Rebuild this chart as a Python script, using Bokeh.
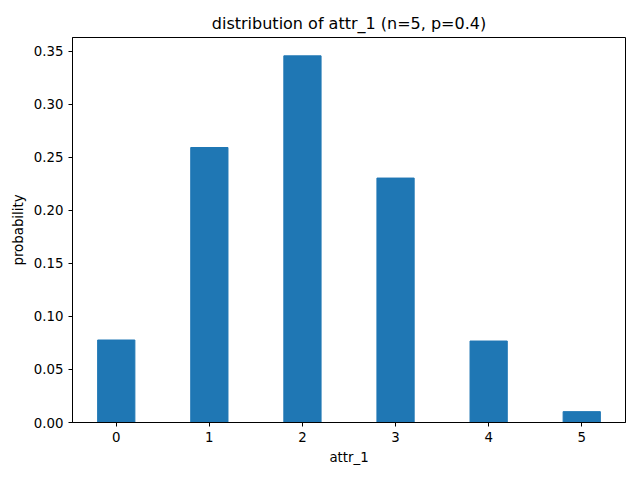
from bokeh.plotting import figure
from bokeh.models import Range1d, FixedTicker, CustomJSTickFormatter
from bokeh.embed import file_html
from bokeh.resources import INLINE

categories = [0, 1, 2, 3, 4, 5]
probabilities = [0.07776, 0.2592, 0.3456, 0.2304, 0.0768, 0.01024]
y_ticks = [0.0, 0.05, 0.10, 0.15, 0.20, 0.25, 0.30, 0.35]

p = figure(width=632, height=472, output_backend="svg", toolbar_location=None,
           x_range=Range1d(-0.47, 5.47), y_range=Range1d(0, 0.36288),
           title="distribution of attr_1 (n=5, p=0.4)",
           min_border_left=72, min_border_right=7, min_border_top=37, min_border_bottom=50)
p.vbar(x=categories, top=probabilities, width=0.4, color="#1f77b4")
p.title.align = "center"
p.title.text_font = "DejaVu Sans"
p.title.text_font_style = "normal"
p.title.text_font_size = "12pt"
p.title.text_color = "black"
p.xaxis.axis_label = "attr_1"
p.yaxis.axis_label = "probability"
for ax in (p.xaxis, p.yaxis):
    ax.axis_label_text_font = "DejaVu Sans"
    ax.axis_label_text_font_style = "normal"
    ax.axis_label_text_font_size = "10pt"
    ax.axis_label_text_color = "black"
    ax.major_label_text_font = "DejaVu Sans"
    ax.major_label_text_font_size = "10pt"
    ax.major_label_text_color = "black"
    ax.minor_tick_line_color = None
    ax.major_tick_out = 4
    ax.major_tick_in = 0
    ax.axis_line_color = "black"
p.xaxis.ticker = FixedTicker(ticks=categories)
p.yaxis.ticker = FixedTicker(ticks=y_ticks)
p.yaxis.formatter = CustomJSTickFormatter(code="return tick.toFixed(2);")
p.grid.grid_line_color = None
p.outline_line_color = "black"
p.background_fill_color = "white"

open("out.html", "w").write(file_html(p, INLINE))
